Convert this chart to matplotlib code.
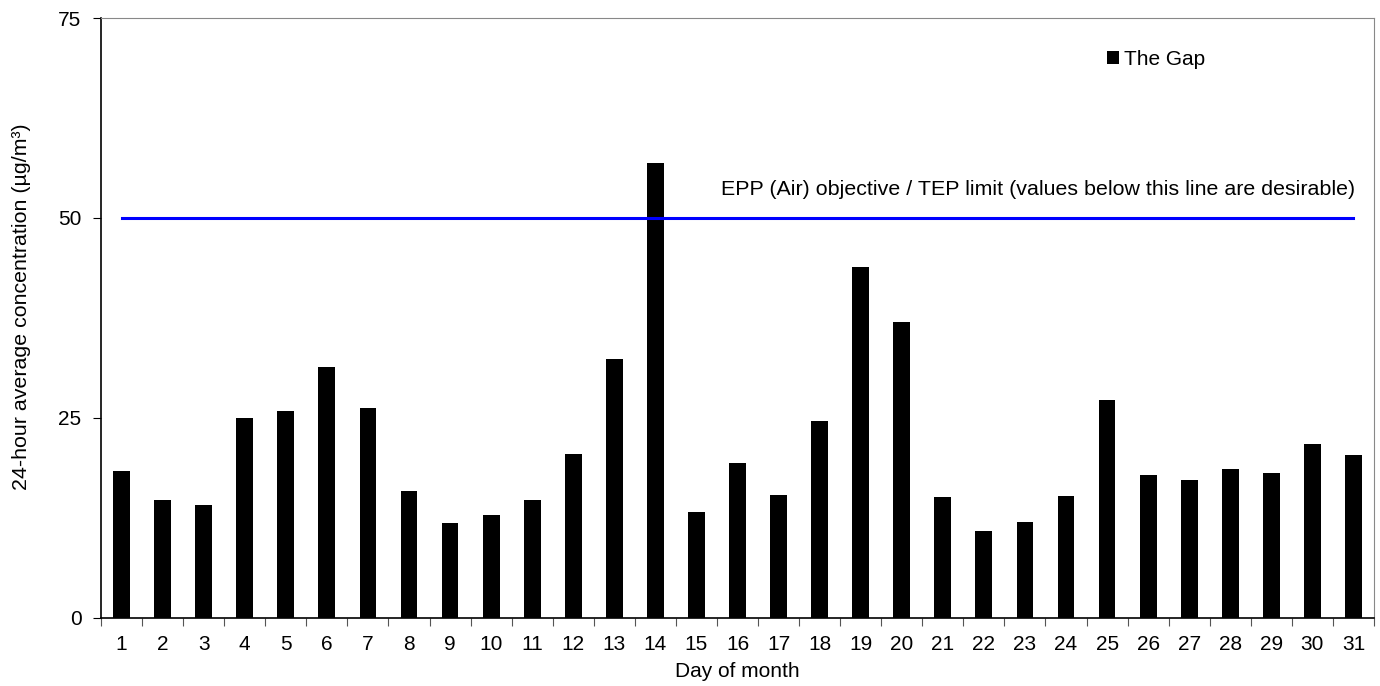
import matplotlib
matplotlib.use("Agg")
import matplotlib.pyplot as plt
import numpy as np

plt.rcParams['font.family'] = ['Liberation Sans', 'DejaVu Sans']

# daily 24-hour averages
days = list(range(1, 32))
gap = [18.3, 14.7, 14.05, 25.0, 25.8, 31.4, 26.2, 15.85, 11.85, 12.85,
       14.7, 20.4, 32.35, 56.9, 13.15, 19.3, 15.3, 24.55, 43.85, 37.0,
       15.05, 10.8, 11.9, 15.15, 27.15, 17.8, 17.15, 18.55, 18.05, 21.7,
       20.35]
limit = 50
limit_text = "EPP (Air) objective / TEP limit (values below this line are desirable)"
series_name = "The Gap"
yticks = [0, 25, 50, 75]

fig = plt.figure(figsize=(13.8, 6.86), dpi=100)
ax = fig.add_axes([101 / 1380, 1 - 617.5 / 686, 1273 / 1380, 599.5 / 686])

ax.bar(days, gap, width=0.41, color='black', label=series_name, zorder=2)
ax.plot([days[0], days[-1]], [limit, limit], color='#0000ff', lw=2.2, zorder=3)
ax.text(31.05, limit + 2.4, limit_text, ha='right', va='bottom', fontsize=15.4)

ax.set_xlim(0.5, 31.5)
ax.set_ylim(0, 75)
ax.set_yticks(yticks)

# ticks sit between the days, labels at the days
ax.set_xticks(np.arange(0.5, 32, 1))
ax.set_xticklabels([])
ax.set_xticks(days, minor=True)
ax.set_xticklabels([str(d) for d in days], minor=True)
ax.tick_params(axis='x', which='minor', length=0, labelsize=15, pad=12.5)
ax.tick_params(axis='x', which='major', length=6, direction='out', color='#555555')
ax.tick_params(axis='y', length=6, direction='out', labelsize=15, pad=8)

ax.spines['top'].set_color('#888888')
ax.spines['right'].set_color('#888888')
for s in ['left', 'bottom']:
    ax.spines[s].set_linewidth(1.2)

ax.set_xlabel("Day of month", fontsize=15, labelpad=6)
ax.set_ylabel("24-hour average concentration (µg/m³)", fontsize=15.4)
ax.yaxis.set_label_coords(-0.0550, 0.518)

ax.legend(loc='upper left', bbox_to_anchor=(0.7753, 0.978), frameon=False,
          fontsize=15, handlelength=0.6, handleheight=0.6, handletextpad=0.25)

fig.savefig("out.png", dpi=100)
